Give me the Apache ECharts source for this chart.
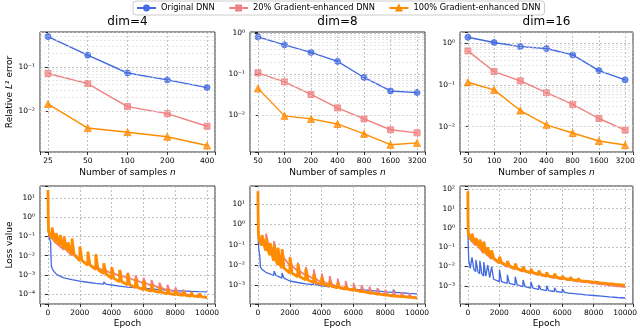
<!DOCTYPE html>
<html><head><meta charset="utf-8">
<script src="https://cdn.jsdelivr.net/npm/echarts@6/dist/echarts.min.js"></script>
<style>html,body{margin:0;padding:0;background:#fff}#c{width:640px;height:331px}</style>
</head><body><div id="c"></div>
<script>
// ---------------- data ----------------
const seriesNames = ['Original DNN', '20% Gradient-enhanced DNN', '100% Gradient-enhanced DNN'];
const panelTitles = ['dim=4', 'dim=8', 'dim=16'];
const samplesDim4 = [25, 50, 100, 200, 400];
const samplesDim8 = [50, 100, 200, 400, 800, 1600, 3200];
const samplesDim16 = [50, 100, 200, 400, 800, 1600, 3200];

const errDim4Orig = [0.49, 0.186, 0.073, 0.051, 0.034];
const errDim4Grad20 = [0.071, 0.042, 0.0126, 0.0087, 0.0045];
const errDim4Grad100 = [0.0145, 0.0041, 0.0033, 0.0026, 0.00164];
const errDim8Orig = [0.81, 0.52, 0.34, 0.205, 0.083, 0.039, 0.0355];
const errDim8Grad20 = [0.108, 0.065, 0.032, 0.015, 0.0081, 0.0044, 0.0037];
const errDim8Grad100 = [0.045, 0.0096, 0.0081, 0.0061, 0.0035, 0.0019, 0.0021];
const errDim16Orig = [1.39, 1.04, 0.83, 0.745, 0.525, 0.22, 0.132];
const errDim16Grad20 = [0.655, 0.209, 0.125, 0.065, 0.034, 0.0156, 0.0082];
const errDim16Grad100 = [0.116, 0.076, 0.0242, 0.011, 0.0070, 0.0045, 0.0036];

const epochTicks = [0, 2000, 4000, 6000, 8000, 10000];
// loss rows: [epoch, loss, spikePeak(optional)]
const lossDim4Orig = [[0,4.5],[8,0.8],[25,0.2],[60,0.1],[120,0.07],[165,0.05],[190,0.01],[215,3e-3],[260,2.2e-3],[350,1.6e-3],[500,1.15e-3],[750,8.5e-4],[1000,7e-4],[1500,5.6e-4],[2000,4.7e-4],[2500,4.1e-4],[3000,3.6e-4],[3500,3.3e-4,4.3e-4],[4000,2.95e-4],[4500,2.6e-4],[5000,2.3e-4],[5500,2.15e-4],[6000,2e-4],[6500,1.85e-4],[7000,1.7e-4],[7500,1.6e-4],[8000,1.5e-4],[8500,1.43e-4],[9000,1.38e-4],[9500,1.33e-4],[10000,1.29e-4]];
const lossDim4Grad20 = [[0,20],[10,2],[30,0.3],[80,0.15],[200,0.09],[500,0.045],[1000,0.02,0.04],[1500,0.01,0.02],[2000,5.3e-3,0.011],[2500,3.4e-3,7e-3],[3000,2.3e-3,4.6e-3],[3500,1.65e-3,3.3e-3],[4000,1.2e-3,2.4e-3],[4500,9e-4,1.8e-3],[5000,6.6e-4,1.3e-3],[5500,4.9e-4,9.5e-4],[6000,3.6e-4,7e-4],[6500,2.8e-4,5.3e-4],[7000,2.1e-4,4e-4],[7500,1.6e-4,3e-4],[8000,1.25e-4,2.2e-4],[8500,1e-4,1.7e-4],[9000,8.2e-5,1.3e-4],[9500,7e-5,1.05e-4],[10000,6.2e-5]];
const lossDim4Grad100 = [[0,27],[8,8],[20,0.6],[40,0.2],[100,0.12],[250,0.08,0.3],[500,0.05,0.15],[750,0.035,0.12],[1000,0.025,0.1],[1250,0.018,0.05],[1500,0.012,0.08],[2000,5.5e-3,0.03],[2500,3.2e-3,0.016],[3000,1.9e-3,0.012],[3500,1.15e-3,4e-3],[4000,6.5e-4,2.5e-3],[4500,4.3e-4,1.8e-3],[5000,3e-4,1.2e-3],[5500,2.2e-4,6.5e-4],[6000,1.7e-4,5e-4],[6500,1.4e-4,3.2e-4],[7000,1.2e-4,2.4e-4],[7500,1.05e-4,1.8e-4],[8000,9.2e-5,1.5e-4],[8500,8.4e-5,1.3e-4],[9000,7.8e-5,1.15e-4],[9500,7.2e-5,1.05e-4],[10000,6.6e-5]];
const lossDim8Orig = [[0,4.5],[8,0.4],[25,0.12],[60,0.05],[110,0.03],[160,8e-3],[220,6.3e-3],[500,4.3e-3],[1000,3e-3,5e-3],[1500,2.2e-3,4e-3],[2000,1.6e-3],[2500,1.35e-3],[3000,1.15e-3],[3500,1.05e-3,6e-3],[4000,9.3e-4],[4500,8.3e-4,1.5e-3],[5000,7.4e-4,1.3e-3],[5500,6.8e-4,1.1e-3],[6000,6.3e-4],[6500,5.9e-4,9e-4],[7000,5.5e-4],[7500,5.1e-4,7e-4],[8000,4.7e-4],[8500,4.4e-4,6e-4],[9000,4.2e-4],[9500,3.9e-4],[10000,3.7e-4]];
const lossDim8Grad20 = [[0,30],[8,3],[25,0.35],[60,0.25],[150,0.2],[300,0.15],[500,0.12,0.35],[1000,0.05,0.15],[1500,0.022,0.06],[2000,9.1e-3,0.025],[2500,4.8e-3,0.013],[3000,3e-3,8e-3],[3500,2e-3,5.5e-3],[4000,1.4e-3,3.8e-3],[4500,1.1e-3,2.8e-3],[5000,8.5e-4,2.1e-3],[5500,7e-4,1.6e-3],[6000,5.9e-4,1.25e-3],[6500,5.1e-4,1e-3],[7000,4.4e-4,8.5e-4],[7500,3.9e-4,7e-4],[8000,3.5e-4,6e-4],[8500,3.2e-4,5.2e-4],[9000,2.9e-4,4.5e-4],[9500,2.7e-4,4e-4],[10000,2.5e-4]];
const lossDim8Grad100 = [[0,43],[8,5],[25,0.4],[60,0.2],[150,0.12],[250,0.09,0.3],[500,0.05,0.2],[750,0.03,0.12],[1000,0.016,0.1],[1250,0.01,0.07],[1500,7e-3,0.06],[2000,3.9e-3,0.023],[2500,2.6e-3,0.011],[3000,1.8e-3,6.3e-3],[3500,1.35e-3,3.5e-3],[4000,1.07e-3,2.5e-3],[4500,8.8e-4,1.6e-3],[5000,7.4e-4,1.26e-3],[5500,6.3e-4,9e-4],[6000,5.5e-4,7e-4],[6500,4.8e-4,6e-4],[7000,4.1e-4,5e-4],[7500,3.6e-4,4.3e-4],[8000,3.2e-4,3.8e-4],[8500,2.9e-4,3.4e-4],[9000,2.7e-4,3.1e-4],[9500,2.5e-4,2.8e-4],[10000,2.3e-4]];
const lossDim16Orig = [[0,3.5],[8,0.5],[25,0.1],[60,0.02],[150,8e-3],[250,7e-3,0.03],[500,5.5e-3,0.022],[750,4.2e-3,0.02],[1000,3.2e-3,0.017],[1250,2.7e-3,0.012],[1500,2.2e-3,0.01],[2000,1.65e-3,7e-3],[2500,1.35e-3,3.7e-3],[3000,1.12e-3,3e-3],[3500,9e-4,2e-3],[4000,7.6e-4,1.65e-3],[4500,6.5e-4,1.1e-3],[5000,5.7e-4,1e-3],[5500,5.1e-4,8e-4],[6000,4.6e-4,7e-4],[6500,4.1e-4,5e-4],[7000,3.7e-4,4.4e-4],[7500,3.4e-4],[8000,3.16e-4],[8500,2.95e-4],[9000,2.7e-4],[9500,2.5e-4],[10000,2.35e-4]];
const lossDim16Grad20 = [[0,60],[8,5],[25,0.5],[100,0.3],[250,0.2],[500,0.12,0.25],[1000,0.048,0.12],[1500,0.024,0.05],[2000,0.0145,0.03],[2500,9.5e-3,0.018],[3000,7.2e-3,0.013],[3500,5.5e-3,0.01],[4000,4.5e-3,8e-3],[4500,3.6e-3,6e-3],[5000,3e-3,5e-3],[5500,2.5e-3,4e-3],[6000,2.2e-3,3.3e-3],[6500,1.9e-3,2.7e-3],[7000,1.66e-3,2.3e-3],[7500,1.5e-3,2e-3],[8000,1.32e-3,1.7e-3],[8500,1.2e-3,1.5e-3],[9000,1.05e-3,1.3e-3],[9500,9.3e-4,1.15e-3],[10000,8.5e-4]];
const lossDim16Grad100 = [[0,80],[8,6],[25,0.6],[100,0.35],[250,0.22,0.5],[500,0.14,0.3],[750,0.09,0.25],[1000,0.055,0.2],[1250,0.04,0.1],[1500,0.027,0.07],[2000,0.016,0.032],[2500,0.011,0.019],[3000,7.8e-3,0.0145],[3500,6e-3,0.01],[4000,4.8e-3,7.2e-3],[4500,3.9e-3,6.2e-3],[5000,3.2e-3,5e-3],[5500,2.8e-3,4.2e-3],[6000,2.4e-3,3.2e-3],[6500,2.1e-3,2.8e-3],[7000,1.86e-3,2.4e-3],[7500,1.7e-3,2.1e-3],[8000,1.55e-3,1.9e-3],[8500,1.4e-3,1.7e-3],[9000,1.26e-3,1.5e-3],[9500,1.15e-3,1.35e-3],[10000,1.07e-3]];

// ---------------- styling / layout ----------------
const FONT = 'DejaVu Sans';
const COLORS = ['#4169E1', '#F08080', '#FF8C00'];
const FILLS = ['rgba(65,105,225,0.75)', 'rgba(240,128,128,0.75)', 'rgba(255,140,0,0.75)'];
const SYMBOLS = ['circle', 'rect', 'triangle'];
const SYMSIZE = [6, 6, 7];
const LOSSWIDTH = [1.3, 1.8, 2.8];
const SPIKE_RISE = 12, SPIKE_DECAY = 140;

const topPanels = [
  {samples: samplesDim4, vals: [errDim4Orig, errDim4Grad20, errDim4Grad100], ymin: 1.17e-3, ymax: 0.624},
  {samples: samplesDim8, vals: [errDim8Orig, errDim8Grad20, errDim8Grad100], ymin: 1.26e-3, ymax: 1.07},
  {samples: samplesDim16, vals: [errDim16Orig, errDim16Grad20, errDim16Grad100], ymin: 2.45e-3, ymax: 1.86}
];
const botPanels = [
  {curves: [lossDim4Orig, lossDim4Grad20, lossDim4Grad100], ymin: 3.0e-5, ymax: 43.6},
  {curves: [lossDim8Orig, lossDim8Grad20, lossDim8Grad100], ymin: 1.17e-4, ymax: 79},
  {curves: [lossDim16Orig, lossDim16Grad20, lossDim16Grad100], ymin: 1.15e-4, ymax: 148}
];
const gridBoxes = [
  {left: 40, top: 32, width: 175, height: 120},
  {left: 250, top: 32, width: 175, height: 120},
  {left: 460, top: 32, width: 173, height: 120},
  {left: 40, top: 186, width: 175, height: 118},
  {left: 250, top: 186, width: 175, height: 118},
  {left: 460, top: 186, width: 173, height: 118}
];

const SUP = {'-': '\u207B', '0': '\u2070', '1': '\u00B9', '2': '\u00B2', '3': '\u00B3', '4': '\u2074', '5': '\u2075', '6': '\u2076'};
function logLabel(v) {
  const e = Math.log10(v), r = Math.round(e);
  if (Math.abs(e - r) > 1e-6) return '';
  return '10' + String(r).split('').map(c => SUP[c]).join('');
}
function buildLoss(rows) {
  const out = [];
  rows.forEach(r => {
    out.push([r[0], r[1]]);
    if (r.length > 2) { out.push([r[0] + SPIKE_RISE, r[2]]); out.push([r[0] + SPIKE_DECAY, r[1]]); }
  });
  return out;
}

const tickFont = {fontSize: 7.5, color: '#000', fontFamily: FONT};
const majorSplit = {show: true, lineStyle: {color: '#b0b0b0', type: [2, 2], width: 0.8}};
const tickStyle = {show: true, length: 3, lineStyle: {color: '#000', width: 0.8}};

const grid = gridBoxes.map(g => Object.assign({show: true, borderColor: '#000', borderWidth: 0.8, backgroundColor: 'transparent'}, g));
const xAxis = [], yAxis = [], series = [];

topPanels.forEach((p, g) => {
  const n = p.samples.length, pad = 0.05 * (n - 1);
  xAxis.push({
    type: 'value', gridIndex: g, min: -pad, max: n - 1 + pad, minInterval: 1, maxInterval: 1,
    axisLine: {show: false}, axisTick: tickStyle, splitLine: majorSplit,
    axisLabel: Object.assign({margin: 5, formatter: v => (Math.abs(v - Math.round(v)) < 1e-6 && v >= 0 && v <= n - 1) ? String(p.samples[Math.round(v)]) : ''}, tickFont),
    name: '{a|Number of samples }{i|n}', nameLocation: 'middle', nameGap: 16,
    nameTextStyle: {rich: {a: {fontSize: 9, fontFamily: FONT, color: '#000'}, i: {fontSize: 9, fontFamily: FONT, fontStyle: 'italic', color: '#000'}}}
  });
  const yA = {
    type: 'log', logBase: 10, gridIndex: g, min: p.ymin, max: p.ymax,
    axisLine: {show: false}, axisTick: tickStyle, splitLine: majorSplit,
    axisLabel: Object.assign({margin: 5, formatter: logLabel}, tickFont)
  };
  if (g === 0) Object.assign(yA, {
    name: '{a|Relative }{i|L}{a|\u00B2 error}', nameLocation: 'middle', nameGap: 26, nameRotate: 90,
    nameTextStyle: {rich: {a: {fontSize: 9, fontFamily: FONT, color: '#000'}, i: {fontSize: 9, fontFamily: FONT, fontStyle: 'italic', color: '#000'}}}
  });
  yAxis.push(yA);
  const minor = [];
  for (let e = -4; e <= 1; e++) for (let k = 2; k <= 9; k++) {
    const v = k * Math.pow(10, e);
    if (v > p.ymin && v < p.ymax) minor.push({yAxis: v});
  }
  p.vals.forEach((vals, s) => {
    const ser = {
      type: 'line', name: seriesNames[s], xAxisIndex: g, yAxisIndex: g,
      data: vals.map((v, i) => [i, v]),
      symbol: SYMBOLS[s], symbolSize: SYMSIZE[s], showSymbol: true,
      lineStyle: {color: COLORS[s], width: 1.4},
      itemStyle: {color: FILLS[s], borderColor: COLORS[s], borderWidth: 0.8},
      z: 3 + s
    };
    if (s === 0) ser.markLine = {silent: true, symbol: ['none', 'none'], label: {show: false}, animation: false,
      lineStyle: {color: '#d6d6d6', type: [2, 2], width: 0.6}, data: minor};
    series.push(ser);
  });
});

botPanels.forEach((p, b) => {
  const g = b + 3;
  xAxis.push({
    type: 'value', gridIndex: g, min: -500, max: 10500,
    axisLine: {show: false}, axisTick: tickStyle, splitLine: majorSplit,
    axisLabel: Object.assign({margin: 5, formatter: v => epochTicks.indexOf(v) >= 0 ? String(v) : ''}, tickFont),
    name: 'Epoch', nameLocation: 'middle', nameGap: 15,
    nameTextStyle: {fontSize: 9, fontFamily: FONT, color: '#000'}
  });
  const yA = {
    type: 'log', logBase: 10, gridIndex: g, min: p.ymin, max: p.ymax,
    axisLine: {show: false}, axisTick: tickStyle, splitLine: majorSplit,
    axisLabel: Object.assign({margin: 5, formatter: logLabel}, tickFont)
  };
  if (b === 0) Object.assign(yA, {
    name: 'Loss value', nameLocation: 'middle', nameGap: 26, nameRotate: 90,
    nameTextStyle: {fontSize: 9, fontFamily: FONT, color: '#000'}
  });
  yAxis.push(yA);
  p.curves.forEach((rows, s) => {
    series.push({
      type: 'line', name: seriesNames[s], xAxisIndex: g, yAxisIndex: g,
      data: buildLoss(rows), symbol: 'none', showSymbol: false,
      lineStyle: {color: COLORS[s], width: LOSSWIDTH[s]}, z: 3 + s
    });
  });
});

const title = panelTitles.map((t, i) => ({
  text: t, left: gridBoxes[i].left + gridBoxes[i].width / 2, top: 16, textAlign: 'center', padding: 0,
  textStyle: {fontSize: 12, fontWeight: 'normal', fontFamily: FONT, color: '#000'}
}));

const chart = echarts.init(document.getElementById('c'), null, {renderer: 'canvas'});
chart.setOption({
  animation: false,
  backgroundColor: '#fff',
  title, grid, xAxis, yAxis, series,
  legend: {
    data: seriesNames, left: 133, top: 1, padding: [3, 4, 3, 3], itemWidth: 19, itemHeight: 6, itemGap: 13.5,
    borderColor: '#cccccc', borderWidth: 1, borderRadius: 3, selectedMode: false,
    textStyle: {fontSize: 8.25, fontFamily: FONT, color: '#000'}
  }
});
</script>
</body></html>
